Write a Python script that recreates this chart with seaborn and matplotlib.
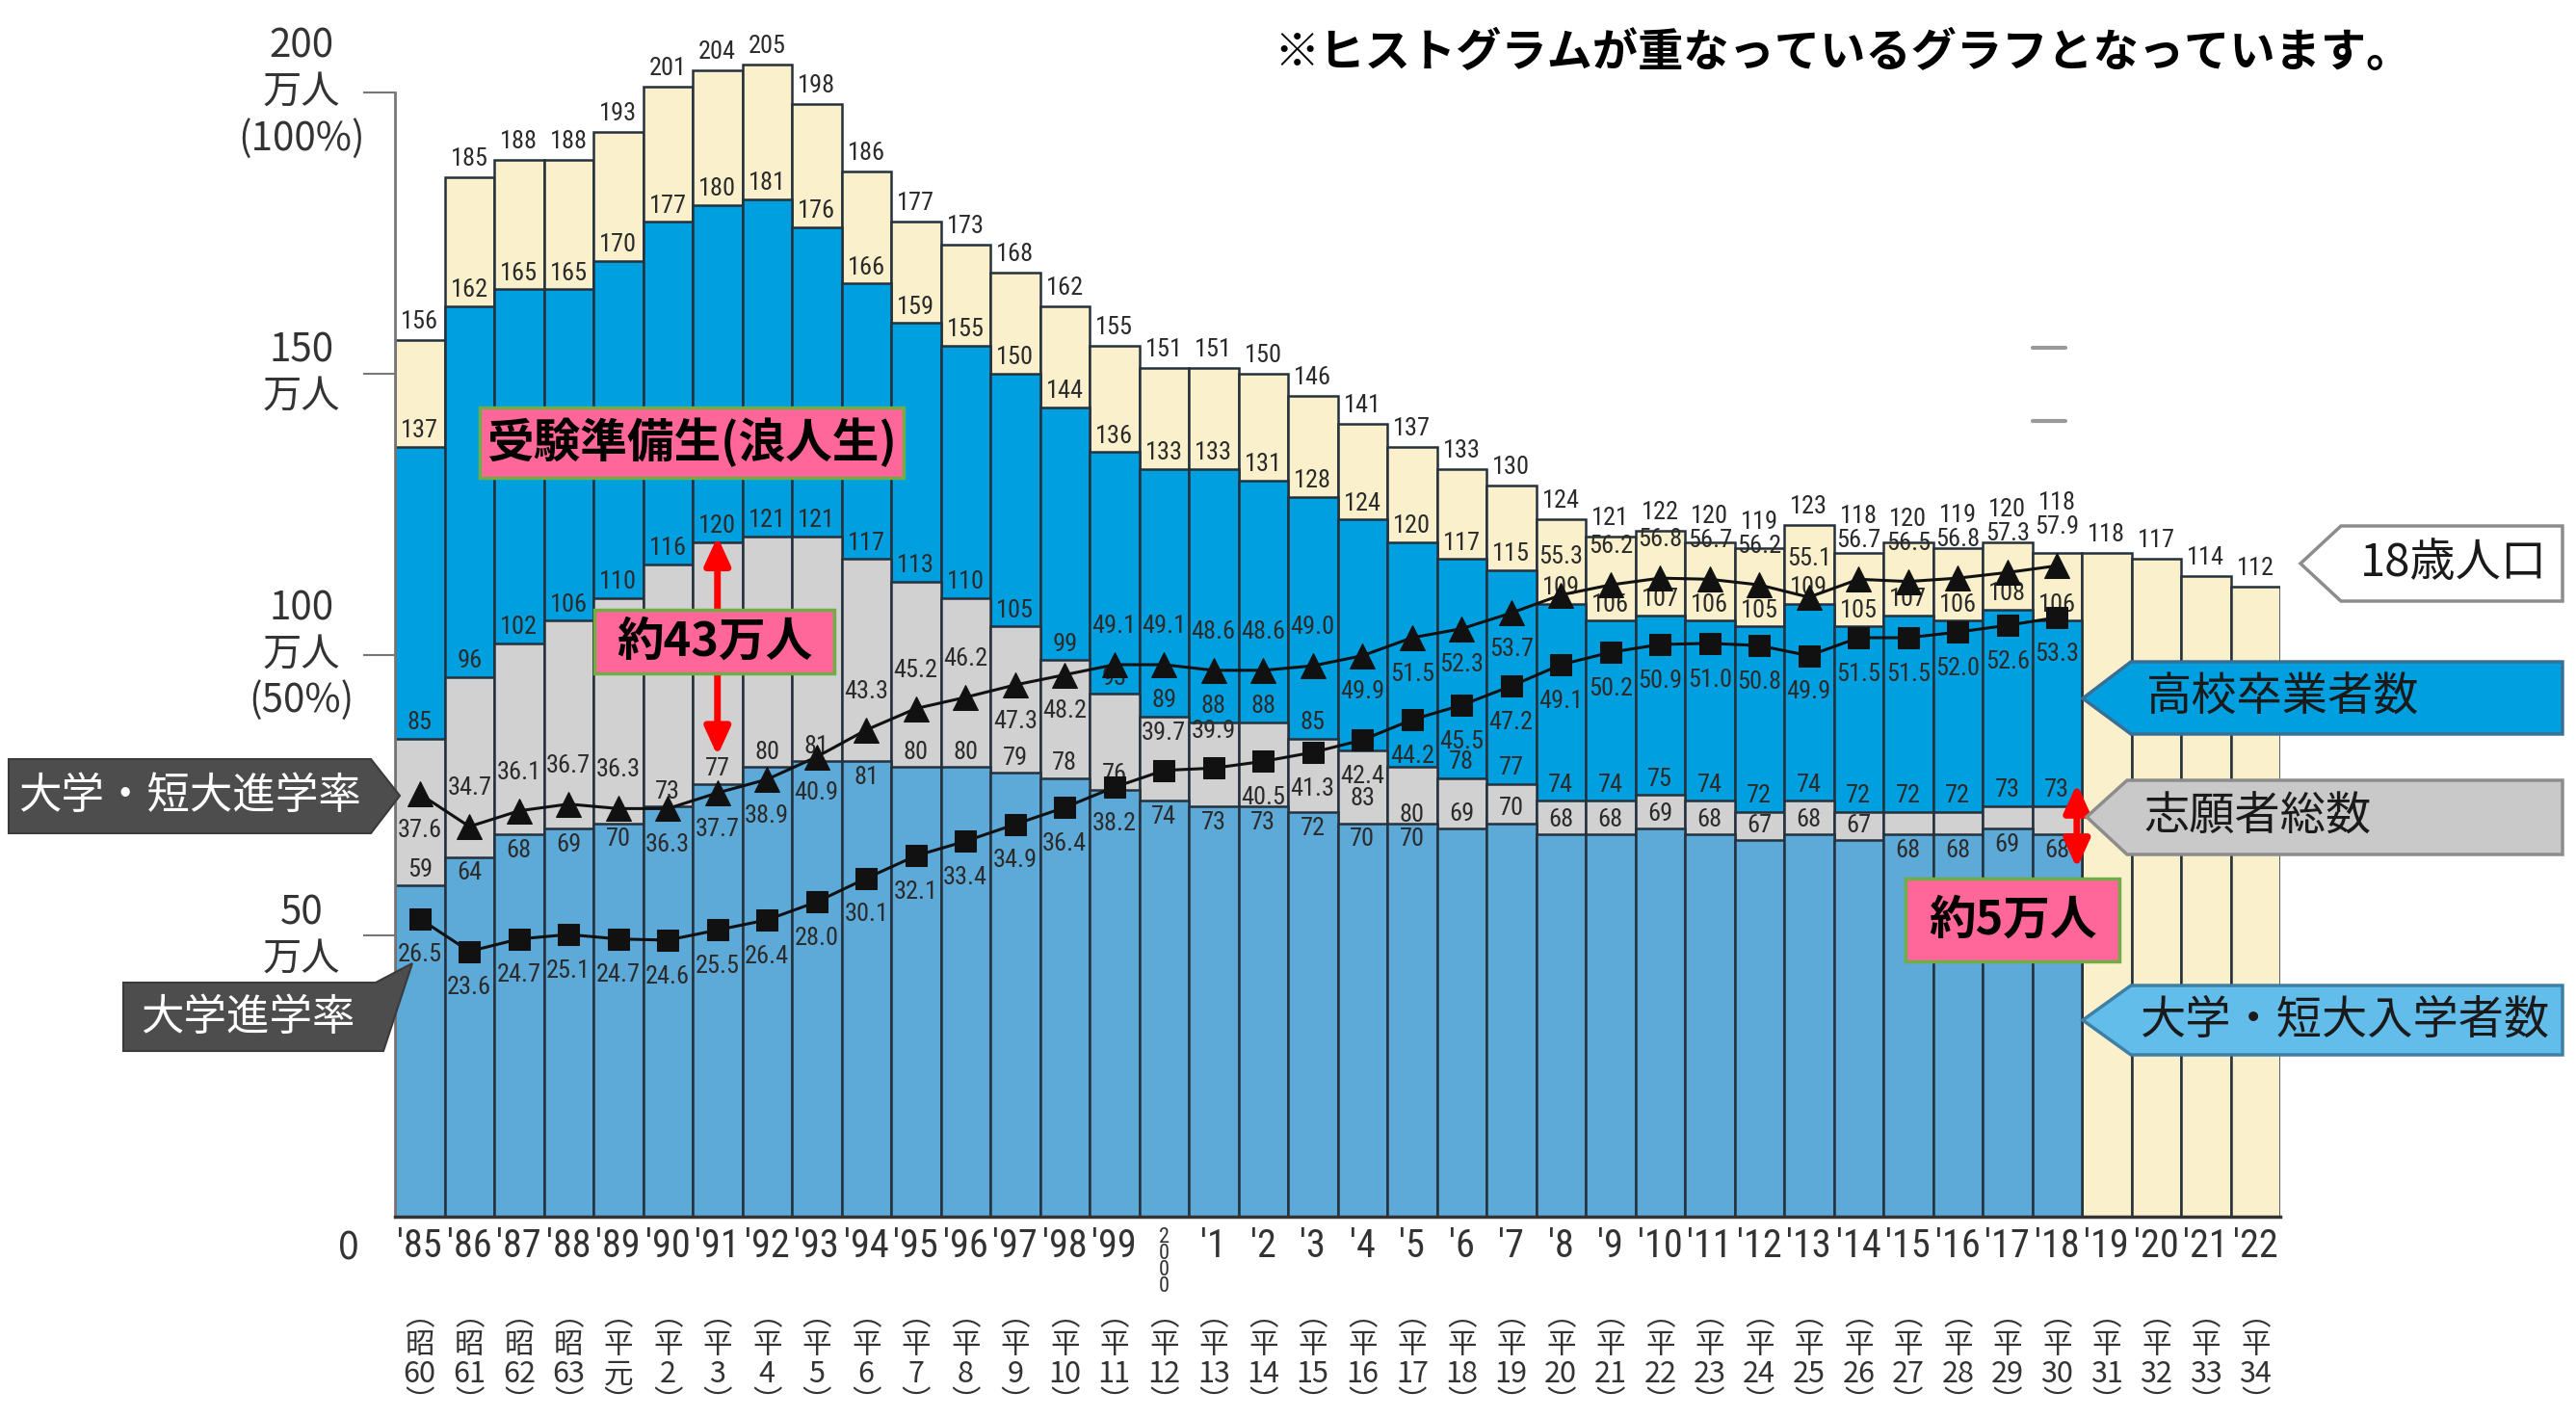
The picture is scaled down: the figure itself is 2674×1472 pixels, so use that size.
import numpy as np
import pandas as pd
from matplotlib import pyplot as plt
from matplotlib import font_manager as fm
from matplotlib.patches import Polygon
from matplotlib.lines import Line2D
import seaborn as sns

# ---- data (万人 / %) ----
years = list(range(1985, 2023))
pop_18 = [156, 185, 188, 188, 193, 201, 204, 205, 198, 186, 177, 173, 168, 162, 155,
          151, 151, 150, 146, 141, 137, 133, 130, 124, 121, 122, 120, 119, 123,
          118, 120, 119, 120, 118,
          118, 117, 114, 112]
grads = [137, 162, 165, 165, 170, 177, 180, 181, 176, 166, 159, 155, 150, 144, 136,
         133, 133, 131, 128, 124, 120, 117, 115, 109, 106, 107, 106, 105, 109,
         105, 107, 106, 108, 106]
applicants = [85, 96, 102, 106, 110, 116, 120, 121, 121, 117, 113, 110, 105, 99, 93,
              89, 88, 88, 85, 83, 80, 78, 77, 74, 74, 75, 74, 72, 74,
              72, 72, 72, 73, 73]
entrants = [59, 64, 68, 69, 70, 73, 77, 80, 81, 81, 80, 80, 79, 78, 76,
            74, 73, 73, 72, 70, 70, 69, 70, 68, 68, 69, 68, 67, 68,
            67, 68, 68, 69, 68]
rate_univ_junior = [37.6, 34.7, 36.1, 36.7, 36.3, 36.3, 37.7, 38.9, 40.9, 43.3, 45.2, 46.2, 47.3, 48.2, 49.1,
                    49.1, 48.6, 48.6, 49.0, 49.9, 51.5, 52.3, 53.7, 55.3, 56.2, 56.8, 56.7, 56.2, 55.1,
                    56.7, 56.5, 56.8, 57.3, 57.9]
rate_univ = [26.5, 23.6, 24.7, 25.1, 24.7, 24.6, 25.5, 26.4, 28.0, 30.1, 32.1, 33.4, 34.9, 36.4, 38.2,
             39.7, 39.9, 40.5, 41.3, 42.4, 44.2, 45.5, 47.2, 49.1, 50.2, 50.9, 51.0, 50.8, 49.9,
             51.5, 51.5, 52.0, 52.6, 53.3]
year_labels = ["'85", "'86", "'87", "'88", "'89", "'90", "'91", "'92", "'93", "'94", "'95", "'96",
               "'97", "'98", "'99", "2\n0\n0\n0", "'1", "'2", "'3", "'4", "'5", "'6", "'7", "'8", "'9",
               "'10", "'11", "'12", "'13", "'14", "'15", "'16", "'17", "'18", "'19", "'20", "'21", "'22"]
era_labels = ['昭60', '昭61', '昭62', '昭63', '平元', '平2', '平3', '平4', '平5', '平6', '平7', '平8',
              '平9', '平10', '平11', '平12', '平13', '平14', '平15', '平16', '平17', '平18', '平19',
              '平20', '平21', '平22', '平23', '平24', '平25', '平26', '平27', '平28', '平29', '平30',
              '平31', '平32', '平33', '平34']
y_ticks = [50, 100, 150, 200]
y_tick_labels = ['50\n万人', '100\n万人\n(50%)', '150\n万人', '200\n万人\n(100%)']

# label placement (which side of the level the number sits on)
entrant_label_below = [1986, 1987, 1988, 1989, 1994, 2000, 2001, 2002, 2003, 2004, 2005,
                       2015, 2016, 2017, 2018]
applicant_label_inside = [2004, 2005]
tri_label_below = [1985, 1990, 1991, 1992, 1993, 1997, 1998, 2004, 2005, 2006, 2007]
sq_label_above = [2000, 2001]

sns.set_style('white')
plt.rcParams['font.family'] = ['Noto Sans CJK JP', 'DejaVu Sans']

installed = {f.name for f in fm.fontManager.ttflist}
narrow = [f for f in ['Liberation Sans Narrow', 'Roboto Condensed', 'Noto Sans Condensed',
                      'Open Sans Condensed'] if f in installed]
num_font = narrow[0] if narrow else 'Liberation Sans'
num_size = 19 if narrow else 16
tick_size = 29 if narrow else 24

n = len(grads)
df = pd.DataFrame({'pos': np.arange(n), 'year': years[:n], 'grads': grads,
                   'applicants': applicants, 'entrants': entrants,
                   'rate_all': rate_univ_junior, 'rate_univ': rate_univ})
pop_df = pd.DataFrame({'pos': np.arange(len(years)), 'pop': pop_18})

W, H = 2674, 1472
Y0, PX = 1263, 5.835          # pixel row of 0 and pixels per 万人
YMAX = 212
fig = plt.figure(figsize=(W / 100, H / 100), dpi=100)
ax = fig.add_axes([410 / W, 1 - Y0 / H, 1957 / W, YMAX * PX / H])

edge = '#25313d'
bar_kw = dict(x='pos', native_scale=True, width=1.0, saturation=1, edgecolor=edge,
              linewidth=1.8, errorbar=None, ax=ax)
sns.barplot(data=pop_df, y='pop', color='#FAF1CC', **bar_kw)
sns.barplot(data=df, y='grads', color='#00A0E0', **bar_kw)
sns.barplot(data=df, y='applicants', color='#D1D1D1', **bar_kw)
sns.barplot(data=df, y='entrants', color='#5DA9D8', **bar_kw)

lab = dict(ha='center', fontsize=num_size, family=num_font, color='#2b2b2b', zorder=6)
for i, v in enumerate(pop_18):
    y = v + 1.2
    if i < n and years[i] not in tri_label_below:
        # keep the population figure clear of the rate label sitting above the triangle
        y = max(y, 2 * (rate_univ_junior[i] + 2.4) + 4.3)
    ax.text(i, y, str(v), va='bottom', **lab)
for _, r in df.iterrows():
    i, yr = r['pos'], r['year']
    ax.text(i, r['grads'] + 0.8, str(int(r['grads'])), va='bottom', **lab)
    if yr in applicant_label_inside:
        ax.text(i, r['applicants'] - 6.5, str(int(r['applicants'])), va='top', **lab)
    else:
        ax.text(i, r['applicants'] + 0.8, str(int(r['applicants'])), va='bottom', **lab)
    if yr in entrant_label_below:
        ax.text(i, r['entrants'] - 0.8, str(int(r['entrants'])), va='top', **lab)
    else:
        ax.text(i, r['entrants'] + 0.6, str(int(r['entrants'])), va='bottom', **lab)

# rates on a 0-100% scale laid over the 0-200万人 axis
ax2 = ax.twinx()
sns.lineplot(data=df, x='pos', y='rate_all', color='#111111', linewidth=2.2, marker='^',
             markersize=19, markeredgecolor='#111111', ax=ax2)
sns.lineplot(data=df, x='pos', y='rate_univ', color='#111111', linewidth=2.2, marker='s',
             markersize=16, markeredgecolor='#111111', ax=ax2)
ax2.set_ylim(0, YMAX / 2)
ax2.set_axis_off()
for _, r in df.iterrows():
    i, yr = r['pos'], r['year']
    if yr in tri_label_below:
        ax2.text(i, r['rate_all'] - 2.2, f"{r['rate_all']:.1f}", va='top', **lab)
    else:
        ax2.text(i, r['rate_all'] + 2.4, f"{r['rate_all']:.1f}", va='bottom', **lab)
    if yr in sq_label_above:
        ax2.text(i, r['rate_univ'] + 2.3, f"{r['rate_univ']:.1f}", va='bottom', **lab)
    else:
        ax2.text(i, r['rate_univ'] - 2.2, f"{r['rate_univ']:.1f}", va='top', **lab)

# axes styling
ax.set_xlim(-0.5, len(years) - 0.5)
ax.set_ylim(0, YMAX)
ax2.set_xlim(-0.5, len(years) - 0.5)
ax.set_xlabel('')
ax.set_ylabel('')
for s in ['top', 'right']:
    ax.spines[s].set_visible(False)
ax.spines['left'].set_bounds(0, 200)
ax.spines['left'].set_color('#777777')
ax.spines['left'].set_linewidth(2)
ax.spines['bottom'].set_color('#333333')
ax.spines['bottom'].set_linewidth(2.5)

ax.set_yticks(y_ticks, y_tick_labels)
ax.tick_params(axis='y', length=24, width=1.5, color='#777777', pad=46,
               labelsize=29, labelcolor='#333333')
for t in ax.get_yticklabels():
    t.set_horizontalalignment('center')
    t.set_verticalalignment('center')
    t.set_multialignment('center')
    t.set_linespacing(1.2)

ax.set_xticks(range(len(years)), year_labels)
ax.tick_params(axis='x', length=0, pad=8, labelsize=tick_size, labelcolor='#333333')
for k, t in enumerate(ax.get_xticklabels()):
    t.set_fontfamily(num_font)
    if '\n' in year_labels[k]:
        t.set_fontsize(16)
        t.set_linespacing(0.75)

for i, e in enumerate(era_labels):
    ax.text(i, -25.5, '︵\n' + e[0] + '\n' + e[1:] + '\n︶', ha='center', va='center',
            fontsize=22, linespacing=0.95, color='#333333', clip_on=False)

# red arrows (differences)
arrow = dict(arrowstyle='<|-|>,head_length=0.7,head_width=0.32', color='#FF0000', lw=5,
             shrinkA=0, shrinkB=0, mutation_scale=25)
ax.annotate('', xy=(6, 121), xytext=(6, 82), arrowprops=arrow, zorder=7)
ax.annotate('', xy=(33.4, 62), xytext=(33.4, 77), arrowprops=arrow, zorder=7)


# ---- figure-level call-outs (pixel positions of the full image) ----
def fig_poly(pts, **kw):
    fig.add_artist(Polygon([(x / W, 1 - y / H) for x, y in pts], closed=True,
                           transform=fig.transFigure, **kw))


def fig_text(x, y, s, **kw):
    fig.text(x / W, 1 - y / H, s, **kw)


def rect(x0, y0, x1, y1):
    return [(x0, y0), (x1, y0), (x1, y1), (x0, y1)]


pink = '#FF6699'
green = '#70AD47'
for (x0, y0, x1, y1), s in [((498, 423, 938, 496), '受験準備生(浪人生)'),
                            ((617, 633, 866, 699), '約43万人'),
                            ((1978, 912, 2200, 998), '約5万人')]:
    fig_poly(rect(x0, y0, x1, y1), facecolor=pink, edgecolor=green, lw=2.5, zorder=5)
    fig_text((x0 + x1) / 2, (y0 + y1) / 2, s, ha='center', va='center', fontsize=35,
             weight='bold', color='black', zorder=6)

right_boxes = [('18歳人口', '#FFFFFF', '#8c8c8c', (2388, 585), (2430, 546, 2660, 624), 2450),
               ('高校卒業者数', '#00A0E0', '#3a6f95', (2162, 725), (2212, 687, 2660, 762), 2228),
               ('志願者総数', '#C9C9C9', '#8c8c8c', (2166, 848), (2208, 810, 2660, 887), 2226),
               ('大学・短大入学者数', '#63BDEA', '#3f7fa5', (2162, 1059), (2212, 1023, 2660, 1095), 2222)]
for s, fc, ec, (tx, ty), (x0, y0, x1, y1), xt in right_boxes:
    fig_poly([(tx, ty), (x0, y0), (x1, y0), (x1, y1), (x0, y1)], facecolor=fc, edgecolor=ec,
             lw=2.5, zorder=5)
    fig_text(xt, (y0 + y1) / 2, s, ha='left', va='center', fontsize=34, color='#1a1a1a', zorder=6)

dark = '#4D4D4D'
fig_poly([(9, 788), (385, 788), (415, 826), (385, 865), (9, 865)], facecolor=dark,
         edgecolor='#3a3a3a', lw=1.5, zorder=5)
fig_text(197, 826, '大学・短大進学率', ha='center', va='center', fontsize=32, color='white', zorder=6)
fig_poly([(128, 1020), (390, 1020), (428, 1000), (398, 1091), (128, 1091)], facecolor=dark,
         edgecolor='#3a3a3a', lw=1.5, zorder=5)
fig_text(257, 1056, '大学進学率', ha='center', va='center', fontsize=32, color='white', zorder=6)

fig_text(1322, 55, '※ヒストグラムが重なっているグラフとなっています。', ha='left', va='center',
         fontsize=34, weight='bold', color='black')
fig_text(362, 1296, '0', ha='center', va='center', fontsize=28, color='#333333')

for yy in (361, 437):
    fig.add_artist(Line2D([2110 / W, 2144 / W], [1 - yy / H, 1 - yy / H], color='#9a9a9a',
                          lw=3, transform=fig.transFigure))

fig.savefig('out.png', dpi=100, facecolor='white')
